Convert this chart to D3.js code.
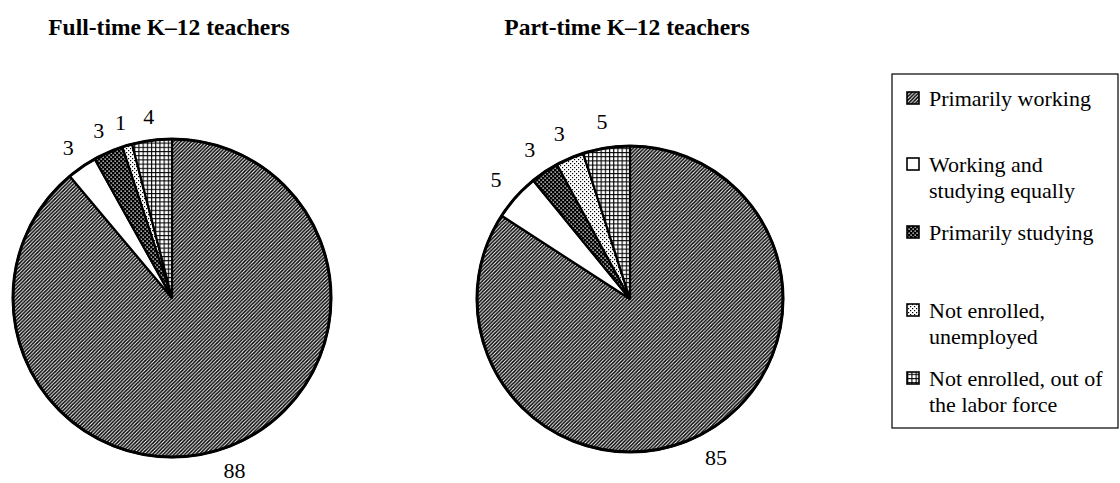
<!DOCTYPE html>
<html lang="en">
    <head>
        <meta charset="utf-8">
        <title>K-12 teachers pies</title>
        <script type="text/javascript" src="https://d3js.org/d3.v7.min.js"></script>
        <style type="text/css">
            body { margin: 0; background: #fff; }
            text { font-family: "Liberation Serif", "Times New Roman", serif; fill: #000; }
        </style>
    </head>
    <body>
        <script type="text/javascript">

            // Data
            var categories = ["Primarily working", "Working and studying equally", "Primarily studying",
                              "Not enrolled, unemployed", "Not enrolled, out of the labor force"];
            var legendLines = [["Primarily working"], ["Working and", "studying equally"], ["Primarily studying"],
                               ["Not enrolled,", "unemployed"], ["Not enrolled, out of", "the labor force"]];
            var fullTime = [88, 3, 3, 1, 4];
            var partTime = [85, 5, 3, 3, 5];
            var titles = ["Full-time K\u201312 teachers", "Part-time K\u201312 teachers"];

            var w = 1120, h = 483;

            var svg = d3.select("body").append("svg")
                .attr("width", w)
                .attr("height", h);

            // Patterns (fills en blanco y negro)
            var defs = svg.append("defs");

            var p = defs.append("pattern").attr("id", "pat0")
                .attr("patternUnits", "userSpaceOnUse").attr("width", 3.6).attr("height", 3.6);
            p.append("rect").attr("width", 3.6).attr("height", 3.6).attr("fill", "#fff");
            p.append("path").attr("d", "M-1,1 l2,-2 M0,3.6 l3.6,-3.6 M2.6,4.6 l2,-2")
                .attr("stroke", "#000").attr("stroke-width", 1.5);

            p = defs.append("pattern").attr("id", "pat1")
                .attr("patternUnits", "userSpaceOnUse").attr("width", 4).attr("height", 4);
            p.append("rect").attr("width", 4).attr("height", 4).attr("fill", "#fff");

            p = defs.append("pattern").attr("id", "pat2")
                .attr("patternUnits", "userSpaceOnUse").attr("width", 4).attr("height", 4);
            p.append("rect").attr("width", 4).attr("height", 4).attr("fill", "#000");
            p.append("rect").attr("x", 0.5).attr("y", 0.5).attr("width", 1.3).attr("height", 1.3).attr("fill", "#fff");
            p.append("rect").attr("x", 2.5).attr("y", 2.5).attr("width", 1.3).attr("height", 1.3).attr("fill", "#fff");

            p = defs.append("pattern").attr("id", "pat3")
                .attr("patternUnits", "userSpaceOnUse").attr("width", 4).attr("height", 4);
            p.append("rect").attr("width", 4).attr("height", 4).attr("fill", "#fff");
            p.append("rect").attr("x", 0).attr("y", 0).attr("width", 1.2).attr("height", 1.2).attr("fill", "#000");
            p.append("rect").attr("x", 2).attr("y", 2).attr("width", 1.2).attr("height", 1.2).attr("fill", "#000");

            p = defs.append("pattern").attr("id", "pat4")
                .attr("patternUnits", "userSpaceOnUse").attr("width", 4.2).attr("height", 4.2);
            p.append("rect").attr("width", 4.2).attr("height", 4.2).attr("fill", "#fff");
            p.append("path").attr("d", "M0.5,0 V4.2 M0,0.5 H4.2")
                .attr("stroke", "#000").attr("stroke-width", 1.2);

            var fillFor = function(i) { return "url(#pat" + i + ")"; };

            // Pies
            var pies = [
                {title: titles[0], values: fullTime, cx: 172, cy: 298, r: 159, off: 24},
                {title: titles[1], values: partTime, cx: 630, cy: 299, r: 153, off: 27}
            ];

            var pie = d3.pie().sort(null).value(function(d) { return d; });

            pies.forEach(function(pd) {
                var g = svg.append("g").attr("transform", "translate(" + pd.cx + "," + pd.cy + ")");
                var arc = d3.arc().innerRadius(0).outerRadius(pd.r);
                var labelArc = d3.arc().innerRadius(pd.r + pd.off).outerRadius(pd.r + pd.off);
                var arcs = pie(pd.values);

                g.selectAll("path.slice")
                    .data(arcs)
                    .enter()
                    .append("path")
                    .attr("class", "slice")
                    .attr("d", arc)
                    .attr("fill", function(d, i) { return fillFor(i); })
                    .attr("stroke", "#000")
                    .attr("stroke-width", 2.2)
                    .attr("stroke-linejoin", "round");

                g.append("circle").attr("r", pd.r).attr("fill", "none")
                    .attr("stroke", "#000").attr("stroke-width", 3);

                g.selectAll("text.lbl")
                    .data(arcs)
                    .enter()
                    .append("text")
                    .attr("class", "lbl")
                    .attr("transform", function(d) { return "translate(" + labelArc.centroid(d) + ")"; })
                    .attr("text-anchor", "middle")
                    .attr("dy", "0.35em")
                    .style("font-size", "22px")
                    .text(function(d) { return d.value; });

                svg.append("text")
                    .attr("x", pd.cx - 3)
                    .attr("y", 35)
                    .attr("text-anchor", "middle")
                    .style("font-size", "23.5px")
                    .style("font-weight", "bold")
                    .text(pd.title);
            });

            // Legend
            var lx = 892, ly = 74, lw = 226, lh = 354;
            var legend = svg.append("g");
            legend.append("rect")
                .attr("x", lx).attr("y", ly).attr("width", lw).attr("height", lh)
                .attr("fill", "#fff").attr("stroke", "#000").attr("stroke-width", 1.2);

            var itemY = [106, 172, 240, 318, 386];   // baseline de la primera linea
            var linePitch = 25.5;

            var items = legend.selectAll("g.item")
                .data(legendLines)
                .enter()
                .append("g")
                .attr("class", "item");

            items.append("rect")
                .attr("x", lx + 15)
                .attr("y", function(d, i) { return itemY[i] - 14; })
                .attr("width", 12).attr("height", 12)
                .attr("fill", function(d, i) { return fillFor(i); })
                .attr("stroke", "#000").attr("stroke-width", 1.6);

            items.each(function(d, i) {
                var t = d3.select(this).append("text")
                    .attr("x", lx + 37)
                    .attr("y", itemY[i])
                    .style("font-size", "22px");
                d.forEach(function(line, j) {
                    t.append("tspan")
                        .attr("x", lx + 37)
                        .attr("dy", j === 0 ? 0 : linePitch)
                        .text(line);
                });
            });

        </script>
    </body>
</html>
